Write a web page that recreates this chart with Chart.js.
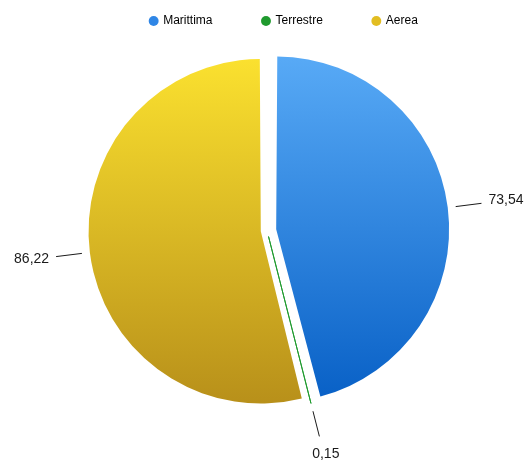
<!DOCTYPE html>
<html>
<head>
<meta charset="utf-8">
<script src="https://cdn.jsdelivr.net/npm/chart.js@4/dist/chart.umd.min.js"></script>
<style>
  html, body { margin: 0; padding: 0; background: #fff; }
  #wrap { width: 526px; height: 469px; }
</style>
</head>
<body>
<div id="wrap"><canvas id="myChart" width="526" height="469"></canvas></div>
<script>
var categories = ['Marittima', 'Terrestre', 'Aerea'];
var values = [73.54, 0.15, 86.22];
var offsets = [37, 25, 25];

var legendColors = ['#2f86e6', '#1f9a2e', '#e2bd22'];
var topColors = ['#58aaf6', '#2aa83a', '#fbe12f'];
var bottomColors = ['#0860c6', '#138a24', '#b8901a'];

var RADIUS = 166;
var FONT = "'Liberation Sans', Arial, Helvetica, sans-serif";

function fmt(v) {
	return v.toFixed(2).replace('.', ',');
}

// vertical gradient over the whole pie
function sliceColor(c) {
	var chart = c.chart;
	var area = chart.chartArea;
	var i = c.dataIndex;
	if (!area) return legendColors[i];
	var cy = (area.top + area.bottom) / 2;
	var g = chart.ctx.createLinearGradient(0, cy - 174, 0, cy + 172);
	g.addColorStop(0, topColors[i]);
	g.addColorStop(1, bottomColors[i]);
	return g;
}

// move the legend a bit, chart.js centers it on the pie
var legendNudge = {
	id: 'legendNudge',
	afterLayout: function(chart) {
		var lg = chart.legend;
		lg.left += 17; lg.right += 17;
		lg.top -= 35; lg.bottom -= 35;
	}
};

// value labels with small leader lines
var sliceLabels = {
	id: 'sliceLabels',
	afterDatasetsDraw: function(chart) {
		var ctx = chart.ctx;
		var meta = chart.getDatasetMeta(0);
		ctx.save();
		ctx.font = '14px ' + FONT;
		ctx.fillStyle = '#1a1a1a';
		ctx.strokeStyle = '#1a1a1a';
		ctx.lineWidth = 1;
		meta.data.forEach(function(arc, i) {
			var p = arc.getProps(['x', 'y', 'startAngle', 'endAngle', 'outerRadius', 'circumference'], true);
			var mid = (p.startAngle + p.endAngle) / 2;
			// same shift as ArcElement.draw
			var t = (arc.options.offset || 0) / 4;
			var fix = 1 - Math.sin(Math.min(Math.PI, p.circumference));
			var dx = Math.cos(mid), dy = Math.sin(mid);
			var cx = p.x + dx * t, cy = p.y + dy * t;
			var r = p.outerRadius + t * fix;
			var x1 = cx + dx * (r + 8), y1 = cy + dy * (r + 8);
			var x2 = cx + dx * (r + 34), y2 = cy + dy * (r + 34);
			ctx.beginPath();
			ctx.moveTo(x1, y1);
			ctx.lineTo(x2, y2);
			ctx.stroke();
			ctx.textBaseline = 'middle';
			var txt = fmt(values[i]);
			if (Math.abs(dx) < 0.4) {
				ctx.textAlign = 'center';
				ctx.fillText(txt, cx + dx * (r + 52) + 2, cy + dy * (r + 52));
			} else if (dx > 0) {
				ctx.textAlign = 'left';
				ctx.fillText(txt, x2 + 7, y2 + dy * 28);
			} else {
				ctx.textAlign = 'right';
				ctx.fillText(txt, x2 - 7, y2 + dy * 18);
			}
		});
		ctx.restore();
	}
};

var ctx = document.getElementById('myChart').getContext('2d');
var chart = new Chart(ctx, {
	type: 'pie',
	data: {
		labels: categories,
		datasets: [{
			data: values,
			backgroundColor: sliceColor,
			borderColor: legendColors,
			borderWidth: [0, 1, 0],
			offset: offsets,
			radius: RADIUS,
			clip: false
		}]
	},
	options: {
		responsive: false,
		animation: false,
		layout: { padding: { top: 0, left: 8, right: 0, bottom: 80 } },
		plugins: {
			tooltip: { enabled: false },
			legend: {
				position: 'top',
				labels: {
					usePointStyle: true,
					boxWidth: 7,
					boxHeight: 7,
					padding: 50,
					color: '#222',
					font: { size: 12, family: FONT },
					generateLabels: function() {
						return categories.map(function(c, i) {
							return {
								text: c,
								fillStyle: legendColors[i],
								strokeStyle: legendColors[i],
								lineWidth: 0,
								pointStyle: 'circle',
								hidden: false,
								index: i
							};
						});
					}
				}
			}
		}
	},
	plugins: [legendNudge, sliceLabels]
});
</script>
</body>
</html>
